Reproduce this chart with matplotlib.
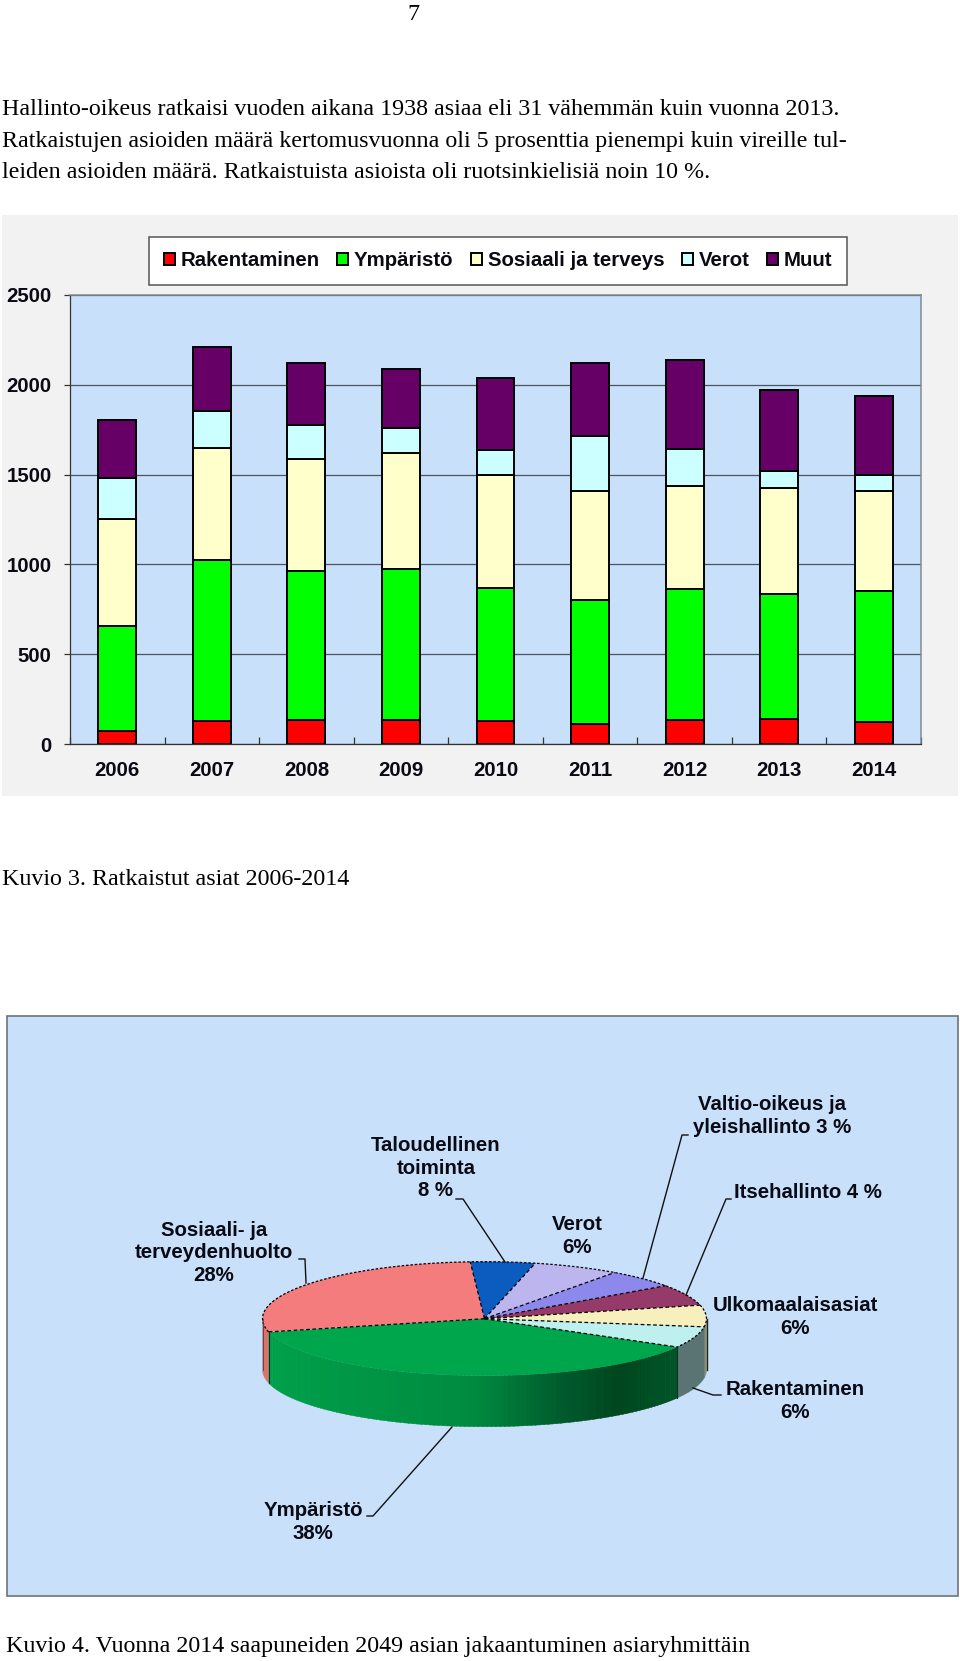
import numpy as np
import matplotlib
matplotlib.use("Agg")
import matplotlib.pyplot as plt
from matplotlib.patches import Rectangle, Polygon
from matplotlib.colors import to_rgb

# bar chart data
years = ["2006", "2007", "2008", "2009", "2010", "2011", "2012", "2013", "2014"]
rakentaminen = [74, 127, 133, 136, 127, 109, 133, 139, 121]
ymparisto = [583, 896, 831, 840, 743, 690, 731, 695, 731]
sosiaali = [596, 625, 625, 643, 630, 607, 572, 590, 554]
verot = [230, 207, 189, 141, 136, 307, 206, 94, 89]
muut = [321, 353, 345, 330, 401, 407, 495, 454, 442]
series_names = ["Rakentaminen", "Ympäristö", "Sosiaali ja terveys", "Verot", "Muut"]
series_colors = ["#FF0000", "#00FF00", "#FFFFCC", "#CCFFFF", "#660066"]
y_ticks = [0, 500, 1000, 1500, 2000, 2500]

# pie data, share of the drawn circle, clockwise from the left edge of the red slice
pie_shares = [27.7, 4.7, 6.3, 5.2, 6.0, 6.1, 6.0, 37.9]
pie_top_colors = ["#F47C7C", "#0B5CBE", "#BDB5EE", "#8C88EC", "#963A6A", "#F8F0BC", "#BEF0F0", "#00A64C"]
pie_side_colors = ["#D9736B", "#0B4C9E", "#9D95CE", "#6C68CC", "#762A5A", "#8A8A70", "#5A7474", None]

body_lines = [
    "Hallinto-oikeus ratkaisi vuoden aikana 1938 asiaa eli 31 vähemmän kuin vuonna 2013.",
    "Ratkaistujen asioiden määrä kertomusvuonna oli 5 prosenttia pienempi kuin vireille tul-",
    "leiden asioiden määrä. Ratkaistuista asioista oli ruotsinkielisiä noin 10 %.",
]

W, H = 960, 1661
SERIF = "Liberation Serif"
SANS = "Liberation Sans"
BOLD = 14.7
BODY = 17.3
INK = "#0A0A14"

fig = plt.figure(figsize=(W / 100, H / 100), dpi=100, facecolor="white")

# page axes in pixel coordinates
page = fig.add_axes([0, 0, 1, 1], zorder=0)
page.set_xlim(0, W)
page.set_ylim(H, 0)
page.axis("off")

page.add_patch(Rectangle((2, 215), 956, 581, fc="#F2F2F2", ec="none"))
page.add_patch(Rectangle((6.5, 1016), 951.5, 580, fc="#C8E0FA", ec="#6E7378", lw=1.2))

page.text(413, 20, "7", family=SERIF, fontsize=BODY, ha="center", va="baseline", color="black")
for line, base in zip(body_lines, [115, 147, 178]):
    page.text(2, base, line, family=SERIF, fontsize=BODY, va="baseline", color="black")
page.text(2, 885, "Kuvio 3. Ratkaistut asiat 2006-2014", family=SERIF, fontsize=BODY, va="baseline", color="black")
page.text(6, 1652, "Kuvio 4. Vuonna 2014 saapuneiden 2049 asian jakaantuminen asiaryhmittäin",
          family=SERIF, fontsize=BODY, va="baseline", color="black")

# stacked bars
ax = fig.add_axes([70 / W, 1 - 744 / H, 851 / W, 449 / H], zorder=1)
ax.set_facecolor("#C8E0FA")
ax.set_xlim(-0.5, len(years) - 0.5)
ax.set_ylim(0, 2500)
ax.set_axisbelow(True)
ax.grid(axis="y", color="#4A5560", lw=0.9)

x = np.arange(len(years))
bottom = np.zeros(len(years))
handles = []
for vals, name, col in zip([rakentaminen, ymparisto, sosiaali, verot, muut], series_names, series_colors):
    b = ax.bar(x, vals, 0.4, bottom=bottom, color=col, edgecolor="black", linewidth=1.4, label=name)
    handles.append(b)
    bottom = bottom + np.array(vals)

ax.set_yticks(y_ticks)
ax.set_xticks(x)
ax.set_xticklabels(years)
ax.set_xticks(np.arange(len(years) + 1) - 0.5, minor=True)
ax.tick_params(axis="x", which="major", length=0, pad=12)
ax.tick_params(axis="x", which="minor", direction="in", length=5, width=0.9, color="#333333")
ax.tick_params(axis="y", length=4.3, width=0.9, color="#333333", pad=9)
for lab in ax.get_xticklabels() + ax.get_yticklabels():
    lab.set_family(SANS)
    lab.set_weight("bold")
    lab.set_fontsize(BOLD)
    lab.set_color(INK)
for side in ["left", "bottom"]:
    ax.spines[side].set_color("#333333")
    ax.spines[side].set_linewidth(0.9)
for side in ["top", "right"]:
    ax.spines[side].set_color("#7F8A96")
    ax.spines[side].set_linewidth(1.1)

leg = ax.legend(handles=handles, ncol=5, loc="center", bbox_to_anchor=(498 / W, 1 - 261 / H),
                bbox_transform=fig.transFigure, fancybox=False, framealpha=1, edgecolor="#555555",
                prop={"family": SANS, "weight": "bold", "size": BOLD}, handlelength=0.55, handleheight=0.55,
                handletextpad=0.28, columnspacing=0.85, borderpad=0.72, labelcolor=INK, borderaxespad=0)
leg.get_frame().set_linewidth(1.1)

# 3d pie, built from the shares
cx, cy, rx, ry, depth = 484.5, 1318.7, 222, 57, 51


def rim(a1, a2, n=80):
    t = np.radians(np.linspace(a1, a2, n))
    return cx + rx * np.cos(t), cy - ry * np.sin(t)


def wall(a1, a2, col):
    xs, ys = rim(a1, a2, 30)
    pts = np.r_[np.c_[xs, ys], np.c_[xs[::-1], ys[::-1] + depth]]
    page.add_patch(Polygon(pts, fc=col, ec=col, lw=0.3, zorder=2))


edges = 193.4 - np.r_[0, np.cumsum(pie_shares)] * 3.6

green_stops = [0, 0.5, 0.72, 0.85, 1]
green_cols = np.array([to_rgb(c) for c in ["#00A04A", "#008A40", "#005A2C", "#00461F", "#005528"]])

for i in range(len(pie_shares)):
    hi, lo = edges[i], edges[i + 1]
    # walls exist only on the front half, 180..360 in screen angle
    a1, a2 = (hi % 360, lo % 360) if i < 7 else (lo % 360, hi % 360)
    if i == 0:
        wall(180, hi, pie_side_colors[0])
    elif i in (5, 6):
        wall(max(hi, -360) if False else hi + 360 if hi < 0 else 360, lo + 360, pie_side_colors[i])
    elif i == 7:
        start, stop = lo + 360, hi + 360
        left = cx + rx * np.cos(np.radians(start))
        right = cx + rx * np.cos(np.radians(stop))
        steps = np.linspace(start, stop, 120)
        for s1, s2 in zip(steps[:-1], steps[1:]):
            f = (cx + rx * np.cos(np.radians(s1)) - left) / (right - left)
            col = [np.interp(f, green_stops, green_cols[:, k]) for k in range(3)]
            wall(s1, s2 + 0.2, col)

for i in range(len(pie_shares)):
    xs, ys = rim(edges[i], edges[i + 1])
    pts = np.r_[[[cx, cy]], np.c_[xs, ys]]
    page.add_patch(Polygon(pts, fc=pie_top_colors[i], ec="none", zorder=3))

# dashed outlines on the top face
for i in range(len(pie_shares)):
    ex, ey = rim(edges[i], edges[i], 1)
    page.plot([cx, ex[0]], [cy, ey[0]], color="black", lw=0.9, ls=(0, (3, 2)), zorder=4)
bx, by = rim(edges[0], edges[7])
page.plot(bx, by, color="black", lw=0.9, ls=(0, (2, 1.5)), zorder=4)

# hard vertical edges of the walls
for a in [edges[0], edges[7]]:
    ex, ey = rim(a, a, 1)
    page.plot([ex[0], ex[0]], [ey[0], ey[0] + depth], color="#10301F", lw=0.8, zorder=4)
ex, ey = rim(360, 360, 1)
page.plot([ex[0], ex[0]], [ey[0], ey[0] + depth], color="#222222", lw=1.0, zorder=4)
ex, ey = rim(180, 180, 1)
page.plot([ex[0], ex[0]], [ey[0], ey[0] + depth], color="#444444", lw=0.6, zorder=4)

# leader lines
leaders = [
    ([299, 305, 306], [1259, 1259, 1283]),
    ([456, 463, 505], [1199, 1199, 1262]),
    ([688, 682, 643], [1135, 1135, 1278]),
    ([731, 726, 686], [1199, 1199, 1295]),
    ([721, 713, 693], [1395, 1395, 1388]),
    ([367, 373, 452], [1516, 1516, 1427]),
]
for lx, ly in leaders:
    page.plot(lx, ly, color="#111111", lw=1.0, zorder=5)

pie_labels = [
    (214, 1253, "Sosiaali- ja\nterveydenhuolto\n28%"),
    (436, 1168, "Taloudellinen\ntoiminta\n8 %"),
    (577, 1236, "Verot\n6%"),
    (772, 1116, "Valtio-oikeus ja\nyleishallinto 3 %"),
    (808, 1192, "Itsehallinto 4 %"),
    (795, 1317, "Ulkomaalaisasiat\n6%"),
    (795, 1401, "Rakentaminen\n6%"),
    (313, 1522, "Ympäristö\n38%"),
]
for tx, ty, s in pie_labels:
    page.text(tx, ty, s, family=SANS, weight="bold", fontsize=BOLD, ha="center", va="center",
              multialignment="center", linespacing=1.26, color=INK, zorder=6)

fig.savefig("out.png", dpi=100)
